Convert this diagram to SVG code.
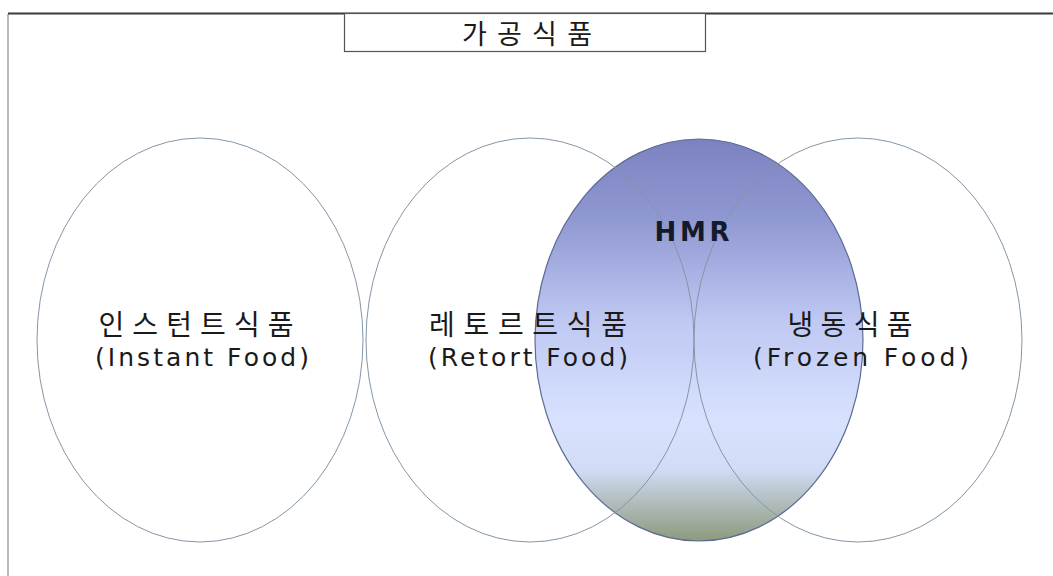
<svg xmlns="http://www.w3.org/2000/svg" width="1053" height="576" viewBox="0 0 1053 576">
  <defs>
    <linearGradient id="hmrGrad" x1="0" y1="0" x2="0" y2="1">
      <stop offset="0" stop-color="#7c82c0"/>
      <stop offset="0.2" stop-color="#9098d2"/>
      <stop offset="0.45" stop-color="#bec8f2"/>
      <stop offset="0.7" stop-color="#d8e2fe"/>
      <stop offset="0.82" stop-color="#d2dcf6"/>
      <stop offset="0.89" stop-color="#b6c2c6"/>
      <stop offset="1" stop-color="#8c9a7c"/>
    </linearGradient>
    <style>
      .circle { fill: none; stroke: #8496a6; stroke-width: 1; }
      .ko { font-family: "Noto Sans CJK KR", sans-serif; fill: #1a1a1a; text-anchor: middle; }
      .en { font-family: "DejaVu Sans", sans-serif; fill: #1a1a1a; text-anchor: middle; }
    </style>
  </defs>
  <rect width="1053" height="576" fill="#ffffff"/>

  <g id="frame">
    <line x1="8" y1="14" x2="8" y2="576" stroke="#b8b8b8" stroke-width="2"/>
    <line x1="8" y1="13.5" x2="1053" y2="13.5" stroke="#3a3a3a" stroke-width="2"/>
  </g>

  <g id="title">
    <rect x="344.5" y="13.5" width="361" height="38" fill="#ffffff" stroke="#555555" stroke-width="1.2"/>
    <text class="ko" x="527" y="44" font-size="27" textLength="130" lengthAdjust="spacing">가공식품</text>
  </g>

  <g id="hmr">
    <ellipse cx="699" cy="340" rx="164" ry="201" fill="url(#hmrGrad)" stroke="#5e6c94" stroke-width="1.2"/>
  </g>

  <g id="instant">
    <ellipse class="circle" cx="200" cy="340" rx="163" ry="202"/>
    <text class="ko" x="196" y="335" font-size="28" textLength="195" lengthAdjust="spacing">인스턴트식품</text>
    <text class="en" x="202" y="366" font-size="25" textLength="214" lengthAdjust="spacing">(Instant Food)</text>
  </g>

  <g id="retort">
    <ellipse class="circle" cx="530" cy="340" rx="164" ry="202"/>
    <text class="ko" x="528" y="335" font-size="28" textLength="198" lengthAdjust="spacing">레토르트식품</text>
    <text class="en" x="528" y="366" font-size="25" textLength="200" lengthAdjust="spacing">(Retort Food)</text>
  </g>

  <g id="frozen">
    <ellipse class="circle" cx="858" cy="340" rx="164" ry="202"/>
    <text class="ko" x="850" y="335" font-size="28" textLength="125" lengthAdjust="spacing">냉동식품</text>
    <text class="en" x="861" y="366" font-size="25" textLength="216" lengthAdjust="spacing">(Frozen Food)</text>
  </g>

  <g id="hmr-label">
    <text x="692" y="241" font-family="DejaVu Sans, sans-serif" font-weight="bold" font-size="26" fill="#151a2a" text-anchor="middle" textLength="75" lengthAdjust="spacing">HMR</text>
  </g>
</svg>
